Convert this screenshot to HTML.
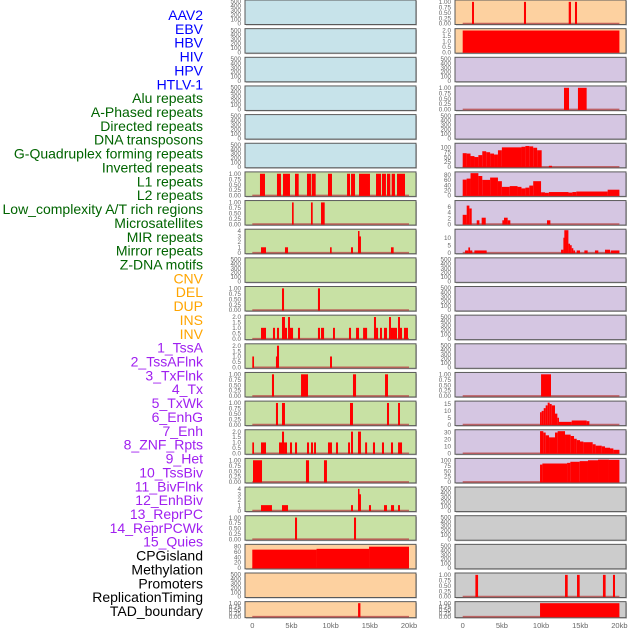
<!DOCTYPE html>
<html><head><meta charset="utf-8"><style>
html,body{margin:0;padding:0;background:#fff;}
svg{display:block;font-family:"Liberation Sans",sans-serif;}
</style></head><body>
<svg id="chart" width="630" height="630" viewBox="0 0 630 630"></svg>
<script>
// ---- data (kb intervals: [start, end, value]) ----
const trackLabels = ["AAV2","EBV","HBV","HIV","HPV","HTLV-1","Alu repeats","A-Phased repeats","Directed repeats","DNA transposons","G-Quadruplex forming repeats","Inverted repeats","L1 repeats","L2 repeats","Low_complexity A/T rich regions","Microsatellites","MIR repeats","Mirror repeats","Z-DNA motifs","CNV","DEL","DUP","INS","INV","1_TssA","2_TssAFlnk","3_TxFlnk","4_Tx","5_TxWk","6_EnhG","7_Enh","8_ZNF_Rpts","9_Het","10_TssBiv","11_BivFlnk","12_EnhBiv","13_ReprPC","14_ReprPCWk","15_Quies","CPGisland","Methylation","Promoters","ReplicationTiming","TAD_boundary"];
const labelGroups = [6,13,5,15,5];
const xTickValues = [0,5,10,15,20];
const xTickLabels = ["0","5kb","10kb","15kb","20kb"];

const L6 = [[0.98,1.62,1],[3.15,3.66,1],[3.92,4.81,1],[5.45,5.92,1],[6.98,7.49,1],[7.58,8.09,1],[9.66,10.17,1],[12.09,12.47,1],[12.6,13.11,1],[13.62,15.02,1],[15.79,16.43,1],[16.55,17.06,1],[17.19,17.61,1],[17.79,18.21,1],[18.47,19.49,1]];
const L7 = [[5.07,5.28,1],[7.49,7.71,1],[8.77,9.24,1]];
const L8 = [[1.11,1.75,1],[4.17,4.56,1],[9.92,10.13,1],[12.6,12.85,1],[13.49,13.62,4],[13.62,13.87,3],[17.7,18.04,1]];
const L10 = [[3.79,4.05,1],[8.38,8.64,1]];
const L11 = [[1.11,1.75,1],[2.64,2.9,1],[3.15,3.41,1],[3.79,4.17,2],[4.17,4.43,1],[4.56,4.81,2],[4.81,5.2,1],[5.83,6.09,1],[8.38,8.64,1],[8.77,9.16,1],[10.3,10.55,1],[12.34,12.6,1],[13.24,13.62,1],[14.14,14.65,1],[15.53,15.79,2],[15.79,16.05,1],[16.3,16.55,1],[16.81,17.19,1],[17.45,17.7,2],[17.7,18.47,1],[18.6,18.85,2],[18.85,19.11,1],[19.36,19.87,1]];
const L12 = [[0,0.22,1],[3.02,3.15,1],[3.15,3.41,2],[9.92,10.17,1]];
const L13 = [[2.51,2.77,1],[6.22,7.11,1],[12.85,13.24,1],[16.94,17.32,1]];
const L14 = [[3.02,3.28,1],[3.79,4.17,1],[12.47,12.85,1],[17.19,17.45,1],[18.6,18.85,1]];
const L15 = [[0,0.22,1],[1.11,1.75,1],[3.41,3.79,1],[3.79,4.05,2],[4.05,4.43,1],[4.81,5.07,1],[5.45,5.71,1],[6.98,7.24,1],[7.49,7.75,1],[7.88,8.13,1],[9.66,10.17,1],[10.68,10.94,1],[12.22,12.47,1],[12.6,12.85,2],[13.49,13.87,2],[14.4,14.65,1],[15.4,15.66,1],[16.55,16.81,1],[17.7,17.96,1],[18.6,19.11,1]];
const L16 = [[0.09,1.24,1],[6.85,7.24,1],[9.15,9.53,1]];
const L17 = [[1.11,2.51,1],[3.79,4.56,1],[12.6,12.85,1],[13.49,13.62,4],[13.62,13.87,3],[14.89,15.15,1],[16.81,17.19,1],[17.7,18.09,1],[18.6,18.85,1]];
const L18 = [[5.45,5.71,1],[12.98,13.24,1]];
const L19 = [[0,8.2,68],[8.2,14.9,71],[14.9,20.0,79]];
const L21 = [[13.5,13.8,1]];

const R0 = [[1.19,1.44,1],[7.82,8.08,1],[13.53,13.82,1],[14.33,14.59,1]];
const R1 = [[0,20.0,2]];
const R3 = [[12.93,13.57,1],[14.71,15.82,1]];
const R5 = [[0,0.5,70],[0.5,1,68],[1,1.5,55],[1.5,2,50],[2,2.5,60],[2.5,3,80],[3,3.5,75],[3.5,4,68],[4,4.5,63],[4.5,5,85],[5,7.5,100],[7.5,8,103],[8,8.5,107],[8.5,9,105],[9,9.5,98],[9.5,10.08,85],[11.0,11.4,5]];
const R6 = [[0,0.5,61],[0.5,1,65],[1,2,86],[2,2.5,75],[2.5,3.5,60],[3.5,4.5,69],[4.5,5,55],[5,6,33],[6,7,36],[7,7.5,33],[7.5,8,27],[8,8.5,30],[8.5,9,38],[9,10,55],[10,10.5,12],[10.5,11,10],[11,13.5,13],[13.5,14,11],[14,14.5,13],[14.5,18.5,15],[18.5,20.0,22]];
const R7 = [[0,0.51,3.2],[0.51,0.85,6.4],[0.85,1.15,5.4],[1.79,2.13,1.3],[2.42,2.94,2.2],[5.06,5.27,1.3],[5.27,5.74,2.2],[5.74,6.08,1.3],[10.76,11.19,1.3]];
const R8 = [[0.3,0.72,1.5],[0.72,0.94,3.5],[0.94,1.23,1.5],[1.49,3.06,1.5],[12.55,12.85,2],[12.85,12.97,10],[12.97,13.49,15],[13.49,13.7,6],[13.7,13.91,5],[13.91,14.12,3],[14.12,14.34,1.5],[14.55,14.97,1.5],[15.53,15.95,1.5],[16.88,17.31,1.5],[18.16,18.8,2],[18.89,20.0,1.5]];
const R13 = [[10.0,11.27,1]];
const R14 = [[9.87,10.08,9],[10.08,10.34,10],[10.34,10.59,12],[10.59,10.85,14],[10.85,11.1,16],[11.1,11.36,15],[11.36,11.78,14],[11.78,12.08,8],[12.08,12.29,5],[12.29,13.91,2],[13.91,15.82,3],[15.82,16.17,2.5]];
const R15 = [[9.87,10.29,32],[10.29,10.59,30],[10.59,11.02,26],[11.02,11.78,23],[11.78,12.12,30],[12.12,13.06,32],[13.06,13.78,27],[13.78,14.21,25],[14.21,14.55,21],[14.55,14.97,19],[14.97,15.4,17],[15.4,16.59,16],[16.59,16.97,13],[16.97,17.74,11],[17.74,18.16,10],[18.16,18.8,8],[18.8,19.23,7],[19.23,20.0,5]];
const R16 = [[9.87,10.17,80],[10.17,13.32,85],[13.32,13.74,88],[13.74,14.93,93],[14.93,15.99,96],[15.99,17.27,100],[17.27,18.67,103],[18.67,20.0,102]];
const R20 = [[1.62,1.96,1],[13.06,13.4,1],[14.59,14.93,1],[17.9,18.24,1],[19.18,19.44,1]];
const R21 = [[9.87,20.0,1]];

// ---- scales ----
const T_EMPTY = {ymax:510, ticks:[0,100,200,300,400,500], fmt:v=>String(v)};
const T_BIN = {ymax:1.04, ticks:[0,0.25,0.5,0.75,1], fmt:v=>v.toFixed(2)};
const T_Q2 = {ymax:2.08, ticks:[0,0.5,1,1.5,2], fmt:v=>v.toFixed(1)};
const T_Q4 = {ymax:4.15, ticks:[0,1,2,3,4], fmt:v=>String(v)};
const T_80 = {ymax:84, ticks:[0,20,40,60,80], fmt:v=>String(v)};
const T_100 = {ymax:116, ticks:[0,25,50,75,100], fmt:v=>String(v)};
const T_80b = {ymax:87, ticks:[0,20,40,60,80], fmt:v=>String(v)};
const T_6 = {ymax:7.8, ticks:[0,2,4,6], fmt:v=>String(v)};
const T_10 = {ymax:15, ticks:[0,5,10], fmt:v=>String(v)};
const T_15 = {ymax:16.4, ticks:[0,5,10,15], fmt:v=>String(v)};
const T_30 = {ymax:32.6, ticks:[0,10,20,30], fmt:v=>String(v)};
const T_100b = {ymax:104, ticks:[0,25,50,75,100], fmt:v=>String(v)};

const BLUE="#c7e3ea", GREEN="#c8e1a4", PEACH="#fdd1a0", LAV="#d5c6e2", GREY="#cccccc";
const leftPanels = [
 [BLUE,T_EMPTY,null],[BLUE,T_EMPTY,null],[BLUE,T_EMPTY,null],[BLUE,T_EMPTY,null],[BLUE,T_EMPTY,null],[BLUE,T_EMPTY,null],
 [GREEN,T_BIN,L6],[GREEN,T_BIN,L7],[GREEN,T_Q4,L8],[GREEN,T_EMPTY,null],[GREEN,T_BIN,L10],[GREEN,T_Q2,L11],[GREEN,T_Q2,L12],
 [GREEN,T_BIN,L13],[GREEN,T_BIN,L14],[GREEN,T_Q2,L15],[GREEN,T_BIN,L16],[GREEN,T_Q4,L17],[GREEN,T_BIN,L18],
 [PEACH,T_80,L19],[PEACH,T_EMPTY,null],[PEACH,T_BIN,L21]];
const rightPanels = [
 [PEACH,T_BIN,R0],[PEACH,T_Q2,R1],[LAV,T_EMPTY,null],[LAV,T_BIN,R3],[LAV,T_EMPTY,null],[LAV,T_100,R5],
 [LAV,T_80b,R6],[LAV,T_6,R7],[LAV,T_10,R8],[LAV,T_EMPTY,null],[LAV,T_EMPTY,null],[LAV,T_EMPTY,null],[LAV,T_EMPTY,null],
 [LAV,T_BIN,R13],[LAV,T_15,R14],[LAV,T_30,R15],[LAV,T_100b,R16],[GREY,T_EMPTY,null],[GREY,T_EMPTY,null],[GREY,T_EMPTY,null],
 [GREY,T_BIN,R20],[GREY,T_BIN,R21]];

const NS="http://www.w3.org/2000/svg";
const svg=document.getElementById('chart');
function mk(tag,attrs,parent){const e=document.createElementNS(NS,tag);for(const k in attrs)e.setAttribute(k,attrs[k]);(parent||svg).appendChild(e);return e;}

const PITCH=28.65, H=24.5;
const cols=[{px0:245,px1:416,x0:252.3,panels:leftPanels,side:'left'},{px0:455,px1:626,x0:462.7,panels:rightPanels,side:'right'}];
const KBPX=156.7/20;

cols.forEach(col=>{
  const xs=kb=>col.x0+kb*KBPX;
  col.panels.forEach((p,i)=>{
    const top=i*PITCH, h=(i===21)?16:H;
    const [bg,sc,data]=p;
    const g=mk('g',{});
    
    
    mk('rect',{x:col.px0+1,y:top+1,width:col.px1-col.px0,height:h,fill:'#bbbbbb'},g);
    const r=mk('rect',{x:col.px0,y:top,width:col.px1-col.px0,height:h,fill:bg,stroke:'#5a5a5a','stroke-width':1},g);
    
    
    const yb=top+h-1, yt=top+1;
    const ys=v=>yb-(v/sc.ymax)*(yb-yt);
    sc.ticks.forEach(t=>{
      const tx=mk('text',{x:col.px0-4,y:ys(t)+2.2,'font-size':6.3,fill:'#666','text-anchor':'end'},g);
      tx.textContent=sc.fmt(t);
      
      
    });
    if(data){
      mk('line',{x1:xs(0),x2:xs(20),y1:yb,y2:yb,stroke:'#b84a4a','stroke-width':1.6,opacity:0.8},g);
      data.forEach(d=>{
        const b=mk('rect',{x:xs(d[0]),y:ys(d[2]),width:Math.max(1.5,xs(d[1])-xs(d[0])),height:yb-ys(d[2])+0.5,fill:'#ff0000'},g);
        
        
      });
    }
  });
  xTickValues.forEach((v,k)=>{
    const t=mk('text',{x:xs(v),y:628,'font-size':7.5,fill:'#666','text-anchor':'middle'});
    t.textContent=xTickLabels[k];
    
    
  });
});

const groupColors=["#0000ff","#006400","#ffa500","#a020f0","#000000"];
const LABEL_STEP=(611-15)/43;
let idx=0;
labelGroups.forEach((n,gi)=>{
  for(let j=0;j<n;j++){
    const t=mk('text',{x:203,y:15+idx*LABEL_STEP+5,'font-size':14,fill:groupColors[gi],'text-anchor':'end'});
    t.textContent=trackLabels[idx];
    
    
    idx++;
  }
});
</script>
</body></html>
